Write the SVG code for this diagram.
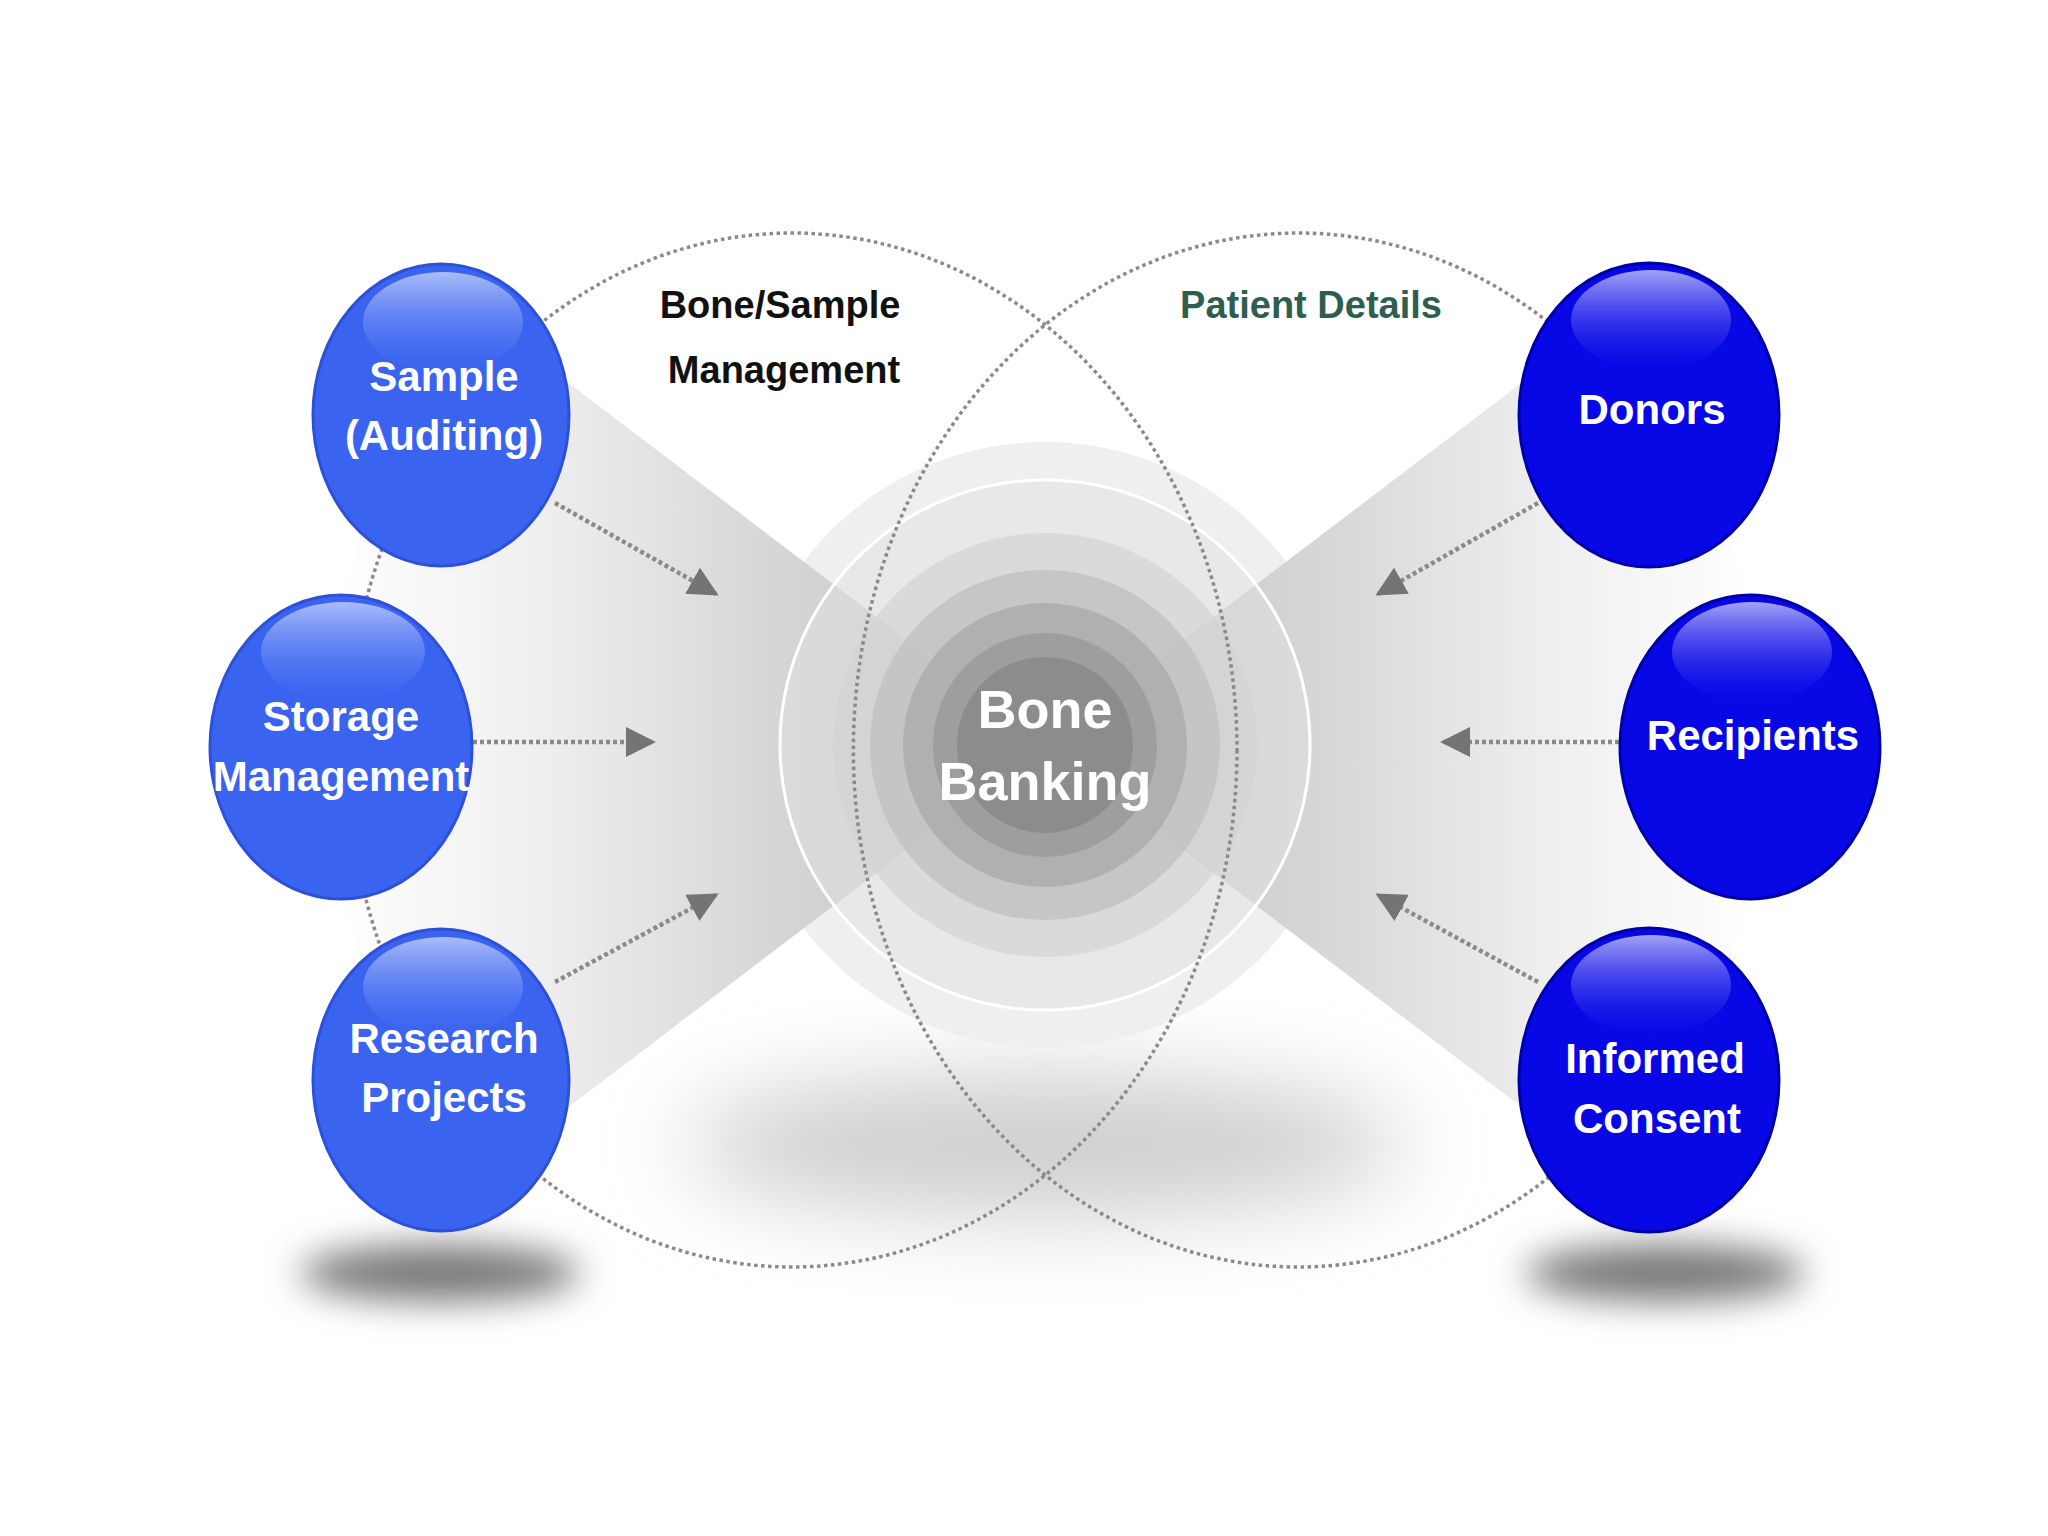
<svg xmlns="http://www.w3.org/2000/svg" width="2048" height="1536" viewBox="0 0 2048 1536">
  <defs>
    <style>
      .lbl { font-family: "Liberation Sans", Arial, sans-serif; font-weight: bold; fill: #ffffff; text-anchor: middle; font-size: 42px; }
      .big { font-size: 54px; }
      .title { font-family: "Liberation Sans", Arial, sans-serif; font-weight: bold; text-anchor: middle; font-size: 38px; }
      .dotted { fill: none; stroke: #8a8a8a; stroke-width: 3.5; stroke-dasharray: 3.5 3.5; }
      .arrow { fill: none; stroke: #8a8a8a; stroke-width: 4.5; stroke-dasharray: 4 3; marker-end: url(#head); }
    </style>
    <marker id="head" viewBox="0 0 10 10" refX="9" refY="5" markerWidth="30" markerHeight="30" markerUnits="userSpaceOnUse" orient="auto">
      <path d="M0,0 L10,5 L0,10 z" fill="#747474"/>
    </marker>
    <linearGradient id="wedgeL" gradientUnits="userSpaceOnUse" x1="330" y1="0" x2="1045" y2="0">
      <stop offset="0" stop-color="#ffffff"/>
      <stop offset="0.3" stop-color="#eeeeee"/>
      <stop offset="0.65" stop-color="#d4d4d4"/>
      <stop offset="1" stop-color="#c2c2c2"/>
    </linearGradient>
    <linearGradient id="wedgeR" gradientUnits="userSpaceOnUse" x1="1760" y1="0" x2="1045" y2="0">
      <stop offset="0" stop-color="#ffffff"/>
      <stop offset="0.3" stop-color="#eeeeee"/>
      <stop offset="0.65" stop-color="#d4d4d4"/>
      <stop offset="1" stop-color="#c2c2c2"/>
    </linearGradient>
    <linearGradient id="glossL" x1="0" y1="0" x2="0" y2="1">
      <stop offset="0" stop-color="#a9bcf9"/>
      <stop offset="1" stop-color="#3a64f0" stop-opacity="0.2"/>
    </linearGradient>
    <linearGradient id="glossR" x1="0" y1="0" x2="0" y2="1">
      <stop offset="0" stop-color="#a3a3f6"/>
      <stop offset="1" stop-color="#0808e8" stop-opacity="0.2"/>
    </linearGradient>
    <filter id="blurS" x="-50%" y="-100%" width="200%" height="300%">
      <feGaussianBlur stdDeviation="18"/>
    </filter>
    <filter id="blurL" x="-50%" y="-100%" width="200%" height="300%">
      <feGaussianBlur stdDeviation="45"/>
    </filter>
  </defs>

  <rect width="2048" height="1536" fill="#ffffff"/>

  <!-- shadows -->
  <g id="shadows">
    <ellipse cx="1045" cy="1145" rx="360" ry="70" fill="#cdcdcd" filter="url(#blurL)"/>
    <ellipse cx="440" cy="1273" rx="140" ry="28" fill="#767676" filter="url(#blurS)"/>
    <ellipse cx="1665" cy="1273" rx="140" ry="28" fill="#767676" filter="url(#blurS)"/>
  </g>

  <!-- outer faint disc -->
  <circle cx="1045" cy="745" r="303" fill="#efefef"/>

  <!-- bow-tie wedges -->
  <g id="wedges">
    <polygon points="1045,745 441,286 341,600 341,900 441,1204" fill="url(#wedgeL)"/>
    <polygon points="1045,745 1649,286 1750,600 1750,900 1649,1204" fill="url(#wedgeR)"/>
  </g>

  <!-- central concentric discs -->
  <g id="bone-banking">
    <circle cx="1045" cy="745" r="265" fill="#e2e2e2" fill-opacity="0.5" stroke="#ffffff" stroke-width="3"/>
    <circle cx="1045" cy="745" r="212" fill="#d2d2d2" fill-opacity="0.65"/>
    <circle cx="1045" cy="745" r="175" fill="#c2c2c2" fill-opacity="0.85"/>
    <circle cx="1045" cy="745" r="142" fill="#b0b0b0"/>
    <circle cx="1045" cy="745" r="112" fill="#9e9e9e"/>
    <circle cx="1045" cy="745" r="88" fill="#8c8c8c"/>
    <text class="lbl big" x="1045" y="728">Bone</text>
    <text class="lbl big" x="1045" y="800">Banking</text>
  </g>

  <!-- group outlines -->
  <g id="groups">
    <ellipse class="dotted" cx="792" cy="750" rx="445" ry="517"/>
    <path class="dotted" d="M1548,322 A445,517 0 1,0 1548,1178"/>
    <text class="title" x="780" y="318" fill="#111111">Bone/Sample</text>
    <text class="title" x="784" y="383" fill="#111111">Management</text>
    <text class="title" x="1311" y="318" fill="#2e5e50">Patient Details</text>
  </g>

  <!-- connectors -->
  <g id="connectors">
    <line class="arrow" x1="555" y1="503" x2="716" y2="594"/>
    <line class="arrow" x1="473" y1="742" x2="653" y2="742"/>
    <line class="arrow" x1="555" y1="982" x2="716" y2="895"/>
    <line class="arrow" x1="1538" y1="503" x2="1378" y2="594"/>
    <line class="arrow" x1="1619" y1="742" x2="1443" y2="742"/>
    <line class="arrow" x1="1538" y1="982" x2="1378" y2="895"/>
  </g>

  <!-- left nodes -->
  <g id="sample-auditing">
    <ellipse cx="441" cy="415" rx="128" ry="151" fill="#3a64f0" stroke="#2c50d8" stroke-width="3"/>
    <ellipse cx="443" cy="322" rx="80" ry="50" fill="url(#glossL)"/>
    <text class="lbl" x="444" y="391">Sample</text>
    <text class="lbl" x="444" y="450">(Auditing)</text>
  </g>
  <g id="storage-management">
    <ellipse cx="341" cy="747" rx="131" ry="152" fill="#3a64f0" stroke="#2c50d8" stroke-width="3"/>
    <ellipse cx="343" cy="652" rx="82" ry="50" fill="url(#glossL)"/>
    <text class="lbl" x="341" y="731">Storage</text>
    <text class="lbl" x="341" y="791">Management</text>
  </g>
  <g id="research-projects">
    <ellipse cx="441" cy="1080" rx="128" ry="151" fill="#3a64f0" stroke="#2c50d8" stroke-width="3"/>
    <ellipse cx="443" cy="987" rx="80" ry="50" fill="url(#glossL)"/>
    <text class="lbl" x="444" y="1053">Research</text>
    <text class="lbl" x="444" y="1112">Projects</text>
  </g>

  <!-- right nodes -->
  <g id="donors">
    <ellipse cx="1649" cy="415" rx="130" ry="152" fill="#0808e6" stroke="#0000a8" stroke-width="3"/>
    <ellipse cx="1651" cy="320" rx="80" ry="50" fill="url(#glossR)"/>
    <text class="lbl" x="1652" y="424">Donors</text>
  </g>
  <g id="recipients">
    <ellipse cx="1750" cy="747" rx="130" ry="152" fill="#0808e6" stroke="#0000a8" stroke-width="3"/>
    <ellipse cx="1752" cy="652" rx="80" ry="50" fill="url(#glossR)"/>
    <text class="lbl" x="1753" y="750">Recipients</text>
  </g>
  <g id="informed-consent">
    <ellipse cx="1649" cy="1080" rx="130" ry="152" fill="#0808e6" stroke="#0000a8" stroke-width="3"/>
    <ellipse cx="1651" cy="985" rx="80" ry="50" fill="url(#glossR)"/>
    <text class="lbl" x="1655" y="1073">Informed</text>
    <text class="lbl" x="1657" y="1133">Consent</text>
  </g>
</svg>
